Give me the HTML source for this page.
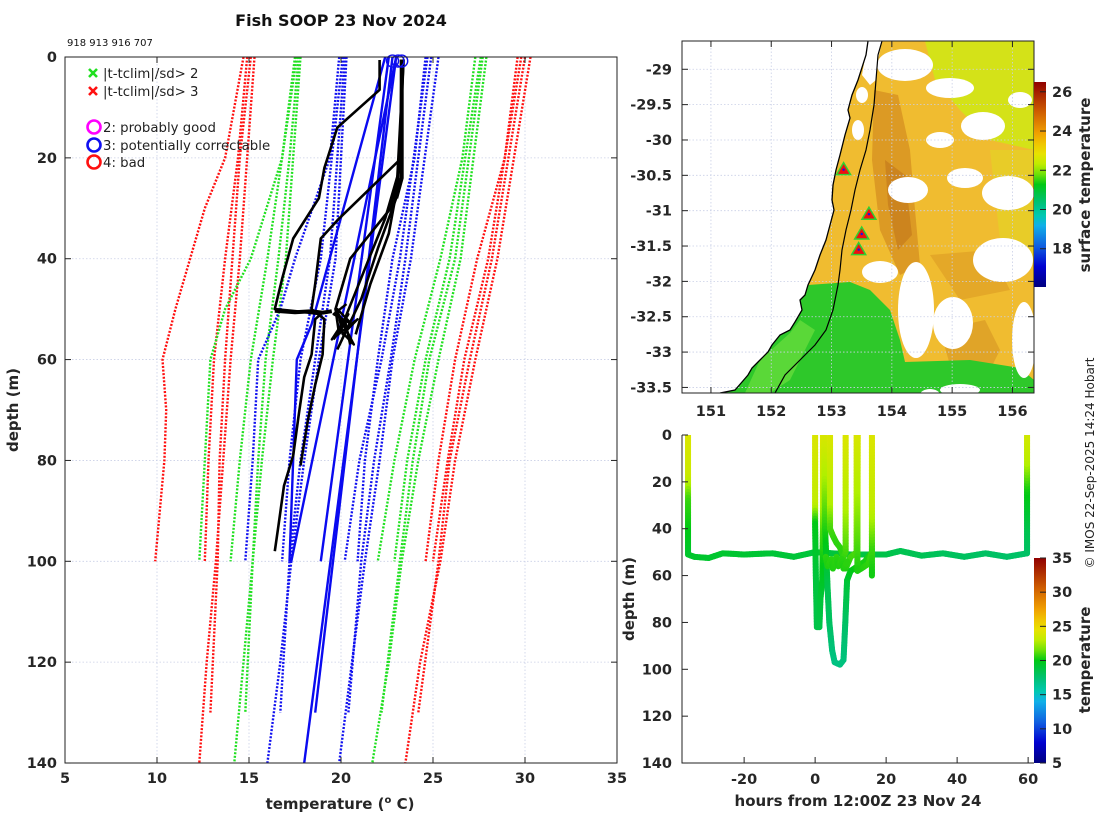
<!DOCTYPE html>
<html><head><meta charset="utf-8"><style>
html,body{margin:0;padding:0;background:#fff}
svg{display:block;font-family:"DejaVu Sans","Liberation Sans",sans-serif}
.tk{font-size:14.5px;font-weight:bold;fill:#262626}
.lg{font-size:13.3px;fill:#222}
</style></head><body>
<svg id="svg" width="1100" height="820" viewBox="0 0 1100 820" xmlns="http://www.w3.org/2000/svg">
<defs>
<linearGradient id="cbTop" x1="0" y1="1" x2="0" y2="0"></linearGradient>
<linearGradient id="cbBot" x1="0" y1="1" x2="0" y2="0"></linearGradient>
<clipPath id="clipL"><rect x="65" y="57" width="552" height="706"/></clipPath>
<clipPath id="clipM"><rect x="682" y="41" width="352" height="352"/></clipPath>
<clipPath id="clipB"><rect x="682" y="435" width="352" height="328"/></clipPath>
</defs>
<text x="341" y="26" text-anchor="middle" style="font-size:16px;font-weight:bold" fill="#111">Fish SOOP 23 Nov 2024</text>
<text x="67" y="46" style="font-size:10px" fill="#111">918 913 916 707</text>
<g id="left"></g>
<g id="map"></g>
<g id="bot"></g>
<text transform="translate(1094,463) rotate(-90)" text-anchor="middle" style="font-size:12px" fill="#222">© IMOS 22-Sep-2025 14:24 Hobart</text>
</svg>
<script>
// ---------- left plot data ----------
const xTicksL=[5,10,15,20,25,30,35];
const yTicksL=[0,20,40,60,80,100,120,140];
const climDepths1=[0,20,30,40,50,60,70,80,100];
const climRedL1=[14.7,13.7,12.6,11.8,11.0,10.3,10.5,10.4,9.9];
const climDepthsA=[0,20,40,60,80,100,130];
const climDepthsB=[0,40,60,80,100,120,140];
const climDepthsC=[0,20,40,60,80,100];
const climDepthsD=[0,40,60,80,100];
const climDepthsE=[0,20,40,50,60,80,100];
const climDepthsF=[0,40,60,80,100,130];
const redL2=[15.1,14.5,14.1,13.7,13.4,13.3,12.9];
const redL3=[15.3,14.5,14.0,13.6,13.2,12.7,12.3];
const redL4=[14.9,14.4,13.7,13.1,12.8,12.6];
const greenL1=[17.5,16.8,15.1,13.7,12.9,12.6,12.3];
const greenL2=[17.7,17.2,16.6,15.9,15.5,15.2,14.8];
const greenL3=[17.8,17.0,16.3,15.7,15.2,14.7,14.2];
const greenL4=[17.6,16.0,15.1,14.5,14.0];
const blueL1=[19.9,19.4,17.5,16.7,15.5,15.2,14.8];
const blueL2=[20.2,19.4,18.6,17.8,17.2,16.7];
const blueL3=[20.3,19.7,18.8,18.0,17.3,16.7,16.0];
const blueL4=[20.1,18.9,17.8,17.2,16.8];
const blueR1=[24.6,24.0,22.8,22.0,21.3,20.9];
const blueR2=[24.9,23.5,22.7,21.8,21.1,20.4];
const blueR3=[25.3,23.8,22.8,22.1,21.3,20.6,19.9];
const blueR4=[24.7,23.2,22.2,21.0,20.2];
const greenR1=[27.3,26.6,25.4,24.0,22.9,22.0];
const greenR2=[27.7,26.2,24.8,23.9,23.2,22.2];
const greenR3=[27.9,26.5,25.3,24.2,23.3,22.6,21.7];
const greenR4=[27.6,25.9,24.6,23.6,22.9];
const redR1=[29.6,28.9,27.4,26.2,25.3,24.6];
const redR2=[30.0,28.2,27.0,25.9,25.3,24.2];
const redR3=[30.3,28.5,27.3,26.2,25.4,24.3,23.5];
const redR4=[29.8,28.0,26.7,25.8,25.0];
const flagD1=[0,100], flagT1=[22.6,18.9];
const flagD2=[0,130], flagT2=[22.8,18.6];
const flagD3=[0,140], flagT3=[23.0,18.0];
const flagD4=[0,53,60,100], flagT4=[22.4,18.4,17.6,17.2];
const flagD5=[0,100], flagT5=[23.0,17.3];
const k1D=[0.6,6.5,14,22,28,36,44,50,50.5,51,52,59,63.5,71,79,85,93,98];
const k1T=[22.1,22.1,19.8,19.1,18.8,17.4,16.8,16.4,17.8,18.9,18.6,18.4,18.0,17.7,17.4,16.9,16.6,16.4];
const k2D=[0.5,20,32,36,45,50,52,59,65,72,81];
const k2T=[23.3,23.3,19.9,18.9,18.6,18.4,19.1,19.0,18.6,18.2,17.8];
const k3D=[0.5,20,30,40,50,55], k3T=[23.3,23.3,22.7,20.5,19.7,19.9];
const k4D=[0.5,22,32,42,52,57], k4T=[23.3,23.2,22.4,21.3,20.2,20.5];
const k5D=[0.5,25,35,45,55], k5T=[23.4,23.1,22.6,21.6,20.8];
const k6D=[0.5,28,38,48,58], k6T=[23.4,23.0,22.0,21.1,19.8];
const jitD=[49,51,53,50,55,52,56,51,54,57,50,53,56];
const jitT=[20.3,19.6,20.6,19.8,20.1,20.9,19.5,20.4,19.9,20.7,19.7,20.2,19.6];
const flatD=[50.3,50.6,50.4,50.7,50.4];
const flatT=[16.4,17.5,18.4,19.0,19.5];
const surfFlagT=[22.8,23.1,23.3];
// ---------- bottom plot data ----------
const xTicksB=[-20,0,20,40,60];
const yTicksB=[0,20,40,60,80,100,120,140];
const cbTicksB=[5,10,15,20,25,30,35];
const cbTicksT=[18,20,22,24,26];
const latTicks=[-29,-29.5,-30,-30.5,-31,-31.5,-32,-32.5,-33,-33.5];
const lonTicks=[151,152,153,154,155,156];
const trackTow=[[-35.8,0,24],[-35.8,18,23.4],[-35.8,28,20.8],[-35.8,51,19.4],[-34,52,19.4],[-30,52.5,19.3],[-26,50.5,19.3],[-20,51,19.2],[-12,50.5,19.1],[-6,52,19.0],[0,50,19],[10,51,18.9],[20,51,18.6],[24,49.5,18.4],[30,51.5,18.3],[36,50.5,18.1],[42,52,18.0],[48,50.5,17.9],[54,52,17.8],[59.7,50.5,17.8],[59.7,40,18.4],[59.7,22,20.3],[59.7,10,22.8],[59.7,0,23.6]];
const trackA=[[0,0,24],[0,30,23],[0,38,20],[0.2,60,19],[0.5,82,18.6],[1.2,82,18.6],[1.5,70,19],[2,62,19.5],[2.2,40,21],[2.2,25,23],[2.2,0,24],[2.5,0,24],[2.8,40,20.5],[3.5,65,18.5],[4,80,18],[4.8,92,17.3],[5.5,97,17],[7,98,17],[8,96,17.1],[8.5,80,17.8],[9,62,19],[10,58,19.8],[12,56,20.2],[14,54,20.3],[16,50,20.4],[16,30,23],[16,0,24]];
const trackB=[[4.2,0,24],[4.2,30,22.5],[4.2,40,21],[5,43,20.8],[6,46,20.6],[7,48,20.6],[8,52,20.6],[8.6,50,20.8],[8.6,30,22.5],[8.6,0,24]];
const trackC=[[8.6,57,20.4],[10,52,20.8],[11.7,50,21],[11.7,30,22.5],[11.7,0,24],[12,0,24],[11.9,58,20.4],[13,57,20.4],[15,55,20.6],[16,50,20.8],[16,60,20.2]];
const trackD=[[3,52,20.6],[3.5,56,20.4],[4.5,53,20.6],[5,57,20.4],[6,52,20.6],[6.5,56,20.4],[7.5,53,20.6],[8,57,20.4],[9,54,20.6]];

const NS='http://www.w3.org/2000/svg';
function mk(tag,attrs,parent){const e=document.createElementNS(NS,tag);for(const k in attrs)e.setAttribute(k,attrs[k]);parent.appendChild(e);return e;}
const stops=[[0,[0,0,127]],[0.1,[0,0,208]],[0.2,[16,96,224]],[0.3,[16,176,232]],[0.35,[0,200,176]],[0.42,[0,192,110]],[0.5,[0,200,20]],[0.58,[176,240,0]],[0.66,[240,224,0]],[0.75,[240,160,0]],[0.85,[208,96,0]],[1,[144,0,0]]];
function cmap(t){t=Math.max(0,Math.min(1,t));for(let i=1;i<stops.length;i++){if(t<=stops[i][0]){const a=stops[i-1],b=stops[i];const f=(t-a[0])/(b[0]-a[0]);const c=a[1].map((v,j)=>Math.round(v+(b[1][j]-v)*f));return 'rgb('+c.join(',')+')';}}return 'rgb(144,0,0)';}
function fillGrad(id){const g=document.getElementById(id);for(let i=0;i<=20;i++){mk('stop',{offset:(i/20),'stop-color':cmap(i/20)},g);}}
fillGrad('cbTop');fillGrad('cbBot');

// ---------- left plot ----------
const L=document.getElementById('left');
const xL=t=>65+(t-5)*18.4, yL=d=>57+d*5.043;
mk('rect',{x:65,y:57,width:552,height:706,fill:'#fff'},L);
xTicksL.forEach(t=>{if(t>5&&t<35){const g=mk('line',{x1:xL(t),x2:xL(t),y1:57,y2:763,stroke:'#c9cfe6','stroke-width':0.8,'stroke-dasharray':'1.5,2'},L);}});
yTicksL.forEach(d=>{if(d>0&&d<140){const g=mk('line',{x1:65,x2:617,y1:yL(d),y2:yL(d),stroke:'#c9cfe6','stroke-width':0.8,'stroke-dasharray':'1.5,2'},L);}});
const PL=mk('g',{'clip-path':'url(#clipL)'},L);
function prof(D,T,color,dash,w,name){const pts=D.map((d,i)=>xL(T[i]).toFixed(1)+','+yL(d).toFixed(1)).join(' ');const p=mk('polyline',{points:pts,fill:'none',stroke:color,'stroke-width':w,'stroke-linejoin':'round'},PL);if(dash)p.setAttribute('stroke-dasharray',dash);}
const dot='2,1.6';
prof(climDepths1,climRedL1,'#ff1010',dot,2.4,'clim-3sd-low');
prof(climDepthsA,redL2,'#ff1010',dot,2.4,'clim-3sd-low');
prof(climDepthsB,redL3,'#ff1010',dot,2.4,'clim-3sd-low');
prof(climDepthsC,redL4,'#ff1010',dot,2.4,'clim-3sd-low');
prof(climDepthsE,greenL1,'#20e020',dot,2.4,'clim-2sd-low');
prof(climDepthsA,greenL2,'#20e020',dot,2.4,'clim-2sd-low');
prof(climDepthsB,greenL3,'#20e020',dot,2.4,'clim-2sd-low');
prof(climDepthsD,greenL4,'#20e020',dot,2.4,'clim-2sd-low');
prof(climDepthsE,blueL1,'#1010f0',dot,2.4,'clim-1sd-low');
prof(climDepthsF,blueL2,'#1010f0',dot,2.4,'clim-1sd-low');
prof(climDepthsB,blueL3,'#1010f0',dot,2.4,'clim-1sd-low');
prof(climDepthsD,blueL4,'#1010f0',dot,2.4,'clim-1sd-low');
prof(climDepthsC,blueR1,'#1010f0',dot,2.4,'clim-1sd-high');
prof(climDepthsF,blueR2,'#1010f0',dot,2.4,'clim-1sd-high');
prof(climDepthsB,blueR3,'#1010f0',dot,2.4,'clim-1sd-high');
prof(climDepthsD,blueR4,'#1010f0',dot,2.4,'clim-1sd-high');
prof(climDepthsC,greenR1,'#20e020',dot,2.4,'clim-2sd-high');
prof(climDepthsF,greenR2,'#20e020',dot,2.4,'clim-2sd-high');
prof(climDepthsB,greenR3,'#20e020',dot,2.4,'clim-2sd-high');
prof(climDepthsD,greenR4,'#20e020',dot,2.4,'clim-2sd-high');
prof(climDepthsC,redR1,'#ff1010',dot,2.4,'clim-3sd-high');
prof(climDepthsF,redR2,'#ff1010',dot,2.4,'clim-3sd-high');
prof(climDepthsB,redR3,'#ff1010',dot,2.4,'clim-3sd-high');
prof(climDepthsD,redR4,'#ff1010',dot,2.4,'clim-3sd-high');
prof(flagD1,flagT1,'#0a0af0',null,2.4,'flagged-profile');
prof(flagD2,flagT2,'#0a0af0',null,2.4,'flagged-profile');
prof(flagD3,flagT3,'#0a0af0',null,2.4,'flagged-profile');
prof(flagD4,flagT4,'#0a0af0',null,2.4,'flagged-profile');
prof(flagD5,flagT5,'#0a0af0',null,2.4,'flagged-profile');
prof(k1D,k1T,'#000',null,2.6,'measured-profile');
prof(k2D,k2T,'#000',null,2.6,'measured-profile');
prof(k3D,k3T,'#000',null,2.6,'measured-profile');
prof(k4D,k4T,'#000',null,2.6,'measured-profile');
prof(k5D,k5T,'#000',null,2.6,'measured-profile');
prof(k6D,k6T,'#000',null,2.6,'measured-profile');
prof(jitD,jitT,'#000',null,2.4,'measured-profile-noise');
prof(flatD,flatT,'#000',null,4,'measured-profile-flat');
prof([0.5,24,28],[23.3,23.3,23.0],'#000',null,4,'measured-profile');
surfFlagT.forEach(t=>{const c=mk('circle',{cx:xL(t),cy:yL(0.8),r:6,fill:'none',stroke:'#1010f0','stroke-width':1.4},L);});
mk('rect',{x:65,y:57,width:552,height:706,fill:'none',stroke:'#222','stroke-width':1},L);
xTicksL.forEach(t=>{mk('line',{x1:xL(t),x2:xL(t),y1:763,y2:757,stroke:'#222'},L);mk('line',{x1:xL(t),x2:xL(t),y1:57,y2:63,stroke:'#222'},L);const tx=mk('text',{x:xL(t),y:783,'text-anchor':'middle',class:'tk'},L);tx.textContent=t;});
yTicksL.forEach(d=>{mk('line',{x1:65,x2:71,y1:yL(d),y2:yL(d),stroke:'#222'},L);mk('line',{x1:611,x2:617,y1:yL(d),y2:yL(d),stroke:'#222'},L);const tx=mk('text',{x:57,y:yL(d)+5,'text-anchor':'end',class:'tk'},L);tx.textContent=d;});
{const t=mk('text',{transform:'translate(18,410) rotate(-90)','text-anchor':'middle',class:'tk',style:'font-size:15px'},L);t.textContent='depth (m)';
const t2=mk('text',{x:340,y:809,'text-anchor':'middle',class:'tk',style:'font-size:15px'},L);t2.innerHTML='temperature (<tspan dy="-6" style="font-size:10px">o</tspan><tspan dy="6"> C)</tspan>';}
function cross(x,y,c){mk('path',{d:`M${x-4},${y-4}L${x+4},${y+4}M${x-4},${y+4}L${x+4},${y-4}`,stroke:c,'stroke-width':2.6},L);}
cross(93,73,'#20e020');cross(93,91,'#ff1010');
[['|t-tclim|/sd> 2',78],['|t-tclim|/sd> 3',96],['2: probably good',132],['3: potentially correctable',150],['4: bad',167]].forEach(a=>{const t=mk('text',{x:103,y:a[1],class:'lg'},L);t.textContent=a[0];});
[['#ff00ff',127],['#1010f0',145],['#ff1010',162]].forEach(a=>{mk('circle',{cx:94,cy:a[1],r:6.5,fill:'none',stroke:a[0],'stroke-width':2.6},L);});

// ---------- map ----------
const M=document.getElementById('map');
const lonX=l=>682+(l-150.52)*60.3, latY=l=>41+(-28.6-l)*70.7;
const MG=mk('g',{'clip-path':'url(#clipM)'},M);
mk('rect',{x:682,y:41,width:352,height:352,fill:'#fff'},MG);
const coast=[[868,41],[866,55],[858,80],[852,95],[848,110],[850,118],[845,135],[840,155],[836,170],[833,185],[832,200],[834,210],[830,225],[826,240],[820,255],[815,270],[808,285],[805,295],[800,300],[802,310],[795,322],[790,330],[780,335],[772,345],[768,352],[760,360],[752,368],[748,375],[742,382],[735,390],[720,393]];
const P=a=>a.map(p=>p.join(',')).join(' ');
mk('polygon',{points:P(coast.concat([[1034,393],[1034,41]])),fill:'#f0bc30'},MG);
mk('polygon',{points:'925,41 1034,41 1034,150 990,140 960,110 935,80',fill:'#d4e218'},MG);
mk('polygon',{points:'990,150 1034,150 1034,260 1000,240',fill:'#e8cc28'},MG);
mk('polygon',{points:'874,90 898,95 910,150 915,210 920,265 900,275 880,230 872,160',fill:'#dc9a24'},MG);
mk('polygon',{points:'885,160 905,175 912,235 898,250 888,205',fill:'#cc841e'},MG);
mk('polygon',{points:'940,330 985,320 1000,350 990,370 950,365',fill:'#e0a428'},MG);
mk('polygon',{points:'930,255 990,250 1010,290 960,300',fill:'#e4a828'},MG);
mk('polygon',{points:P([[808,285],[850,282],[870,290],[890,310],[900,340],[905,362],[970,360],[1020,368],[1034,380],[1034,393],[720,393],[735,390],[742,382],[748,375],[752,368],[760,360],[768,352],[772,345],[780,335],[790,330],[795,322],[802,310],[800,300],[805,295]]),fill:'#2ec82a'},MG);
mk('polygon',{points:'760,360 790,333 800,320 815,330 790,380 770,393 745,393',fill:'#5ad838'},MG);
mk('polygon',{points:'868,41 882,41 878,60 876,80 870,85 862,75',fill:'#fff'},MG);
[[905,65,28,16],[950,88,24,10],[983,126,22,14],[908,190,20,13],[1008,193,26,17],[880,272,18,11],[916,310,18,48],[953,323,20,26],[1003,260,30,22],[1024,340,12,38],[965,178,18,10],[940,140,14,8],[1020,100,12,8],[960,390,20,6],[930,395,10,6],[862,95,6,8],[858,130,6,10]].forEach(e=>{const w=mk('ellipse',{cx:e[0],cy:e[1],rx:e[2],ry:e[3],fill:'#fff'},MG);});
lonTicks.forEach(l=>{mk('line',{x1:lonX(l),x2:lonX(l),y1:41,y2:393,stroke:'#c9cfe6','stroke-width':0.8,'stroke-dasharray':'1.5,2'},MG);});
latTicks.forEach(l=>{mk('line',{x1:682,x2:1034,y1:latY(l),y2:latY(l),stroke:'#c9cfe6','stroke-width':0.8,'stroke-dasharray':'1.5,2'},MG);});
{const c=mk('polyline',{points:P(coast),fill:'none',stroke:'#000','stroke-width':1.3},MG);
const iso=mk('polyline',{points:'882,41 878,55 876,80 874,105 870,130 866,150 860,170 855,190 851,210 846,230 842,250 840,270 838,285 833,310 826,330 815,345 800,360 785,375 775,393',fill:'none',stroke:'#000','stroke-width':1.2},MG);}
const stnLon=[153.2,153.62,153.5,153.45], stnLat=[-30.42,-31.05,-31.33,-31.55];
stnLon.forEach((lo,i)=>{const x=lonX(lo),y=latY(stnLat[i]);mk('polygon',{points:`${x},${y-7} ${x-7},${y+5} ${x+7},${y+5}`,fill:'#ee1010',stroke:'#30d030','stroke-width':1.5},MG);const c=mk('circle',{cx:x,cy:y,r:1.2,fill:'#1010f0'},MG);});
mk('rect',{x:682,y:41,width:352,height:352,fill:'none',stroke:'#222'},M);
lonTicks.forEach(l=>{mk('line',{x1:lonX(l),x2:lonX(l),y1:393,y2:387,stroke:'#222'},M);mk('line',{x1:lonX(l),x2:lonX(l),y1:41,y2:47,stroke:'#222'},M);const t=mk('text',{x:lonX(l),y:416,'text-anchor':'middle',class:'tk'},M);t.textContent=l;});
latTicks.forEach(l=>{mk('line',{x1:682,x2:688,y1:latY(l),y2:latY(l),stroke:'#222'},M);mk('line',{x1:1028,x2:1034,y1:latY(l),y2:latY(l),stroke:'#222'},M);const t=mk('text',{x:672,y:latY(l)+5,'text-anchor':'end',class:'tk'},M);t.textContent=l;});
const cbTy=v=>287-(v-16.05)*19.62;
{const r=mk('rect',{x:1034,y:82,width:12,height:205,fill:'url(#cbTop)'},M);}
cbTicksT.forEach(v=>{mk('line',{x1:1040,x2:1046,y1:cbTy(v),y2:cbTy(v),stroke:'#222'},M);const t=mk('text',{x:1052,y:cbTy(v)+5,class:'tk'},M);t.textContent=v;});
{const t=mk('text',{transform:'translate(1090,185) rotate(-90)','text-anchor':'middle',class:'tk',style:'font-size:15px'},M);t.textContent='surface temperature';}

// ---------- bottom plot ----------
const B=document.getElementById('bot');
const xB=h=>682+(h+37.5)*3.55, yB=d=>435+d*2.343;
const BG=mk('g',{'clip-path':'url(#clipB)'},B);
function track(arr,name){const g=mk('g',{},BG);
for(let i=1;i<arr.length;i++){const a=arr[i-1],b=arr[i];const len=Math.hypot(xB(b[0])-xB(a[0]),yB(b[1])-yB(a[1]));const n=Math.max(1,Math.ceil(len/3));for(let k=0;k<n;k++){const f0=k/n,f1=(k+1)/n;const tm=a[2]+(b[2]-a[2])*(f0+f1)/2;mk('line',{x1:xB(a[0]+(b[0]-a[0])*f0),y1:yB(a[1]+(b[1]-a[1])*f0),x2:xB(a[0]+(b[0]-a[0])*f1),y2:yB(a[1]+(b[1]-a[1])*f1),stroke:cmap((tm-5)/30),'stroke-width':6,'stroke-linecap':'round'},g);}}}
track(trackTow,'tow-track');track(trackA,'cast-track');track(trackB,'cast-track');track(trackC,'cast-track');track(trackD,'cast-track');
mk('path',{d:'M682,435V763H1034',fill:'none',stroke:'#222'},B);
xTicksB.forEach(h=>{mk('line',{x1:xB(h),x2:xB(h),y1:763,y2:757,stroke:'#222'},B);const t=mk('text',{x:xB(h),y:784,'text-anchor':'middle',class:'tk'},B);t.textContent=h;});
yTicksB.forEach(d=>{mk('line',{x1:682,x2:688,y1:yB(d),y2:yB(d),stroke:'#222'},B);const t=mk('text',{x:672,y:yB(d)+5,'text-anchor':'end',class:'tk'},B);t.textContent=d;});
{const t=mk('text',{transform:'translate(634,599) rotate(-90)','text-anchor':'middle',class:'tk',style:'font-size:15px'},B);t.textContent='depth (m)';
const t2=mk('text',{x:858,y:806,'text-anchor':'middle',class:'tk',style:'font-size:15px'},B);t2.textContent='hours from 12:00Z 23 Nov 24';}
const cbBy=v=>763-(v-5)*(205/30);
{const r=mk('rect',{x:1034,y:558,width:12,height:205,fill:'url(#cbBot)'},B);}
cbTicksB.forEach(v=>{mk('line',{x1:1040,x2:1046,y1:cbBy(v),y2:cbBy(v),stroke:'#222'},B);const t=mk('text',{x:1052,y:cbBy(v)+5,class:'tk'},B);t.textContent=v;});
{const t=mk('text',{transform:'translate(1090,660) rotate(-90)','text-anchor':'middle',class:'tk',style:'font-size:15px'},B);t.textContent='temperature';}
</script>
</body></html>
